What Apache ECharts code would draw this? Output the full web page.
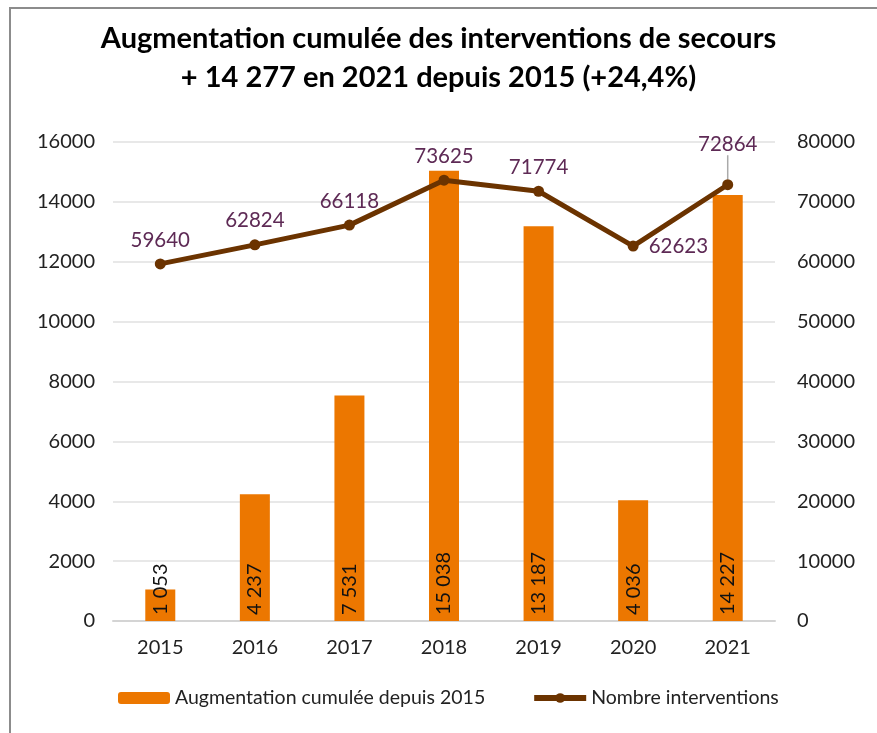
<!DOCTYPE html>
<html>
<head>
<meta charset="utf-8">
<script src="https://cdn.jsdelivr.net/npm/echarts@6/dist/echarts.min.js"></script>
<style>
  html, body { margin: 0; padding: 0; background: #fff; }
  #chart { width: 877px; height: 733px; }
</style>
</head>
<body>
<div id="chart"></div>
<script>
// données
const years = ['2015', '2016', '2017', '2018', '2019', '2020', '2021']
const augmentation = [1053, 4237, 7531, 15038, 13187, 4036, 14227]
const interventions = [59640, 62824, 66118, 73625, 71774, 62623, 72864]

const fmt = v => String(v).replace(/\B(?=(\d{3})+(?!\d))/g, ' ')
const font = 'Lato, "Open Sans", sans-serif'

const chart = echarts.init(document.getElementById('chart'))

chart.setOption({
  animation: false,
  textStyle: { fontFamily: font },
  title: {
    text: 'Augmentation cumulée des interventions de secours\n+ 14 277 en 2021 depuis 2015 (+24,4%)',
    left: 'center',
    top: 14,
    textStyle: { fontSize: 29, fontWeight: 'bold', color: '#000', lineHeight: 39, fontFamily: font }
  },
  graphic: [{
    type: 'rect',
    shape: { x: 10, y: 8, width: 900, height: 760 },
    style: { fill: 'none', stroke: '#8c8c8c', lineWidth: 2 },
    silent: true
  }],
  legend: {
    bottom: 20,
    left: 113,
    itemWidth: 52,
    itemHeight: 12,
    itemGap: 46,
    textStyle: { fontSize: 19.5, color: '#222' },
    data: [
      'Augmentation cumulée depuis 2015',
      { name: 'Nombre interventions', lineStyle: { width: 6 } }
    ]
  },
  grid: { left: 113, right: 102, top: 142, bottom: 112 },
  xAxis: {
    type: 'category',
    data: years,
    axisTick: { show: false },
    axisLine: { lineStyle: { color: '#d4d4d4', width: 2 } },
    axisLabel: { fontSize: 20, color: '#222', margin: 17 }
  },
  yAxis: [
    {
      type: 'value',
      min: 0, max: 16000, interval: 2000,
      axisLabel: { fontSize: 20, color: '#222', margin: 18, formatter: v => String(v) },
      splitLine: { lineStyle: { color: '#e8e8e8', width: 2 } }
    },
    {
      type: 'value',
      min: 0, max: 80000, interval: 10000,
      axisLabel: { fontSize: 20, color: '#222', margin: 22, formatter: v => String(v) },
      splitLine: { show: false }
    }
  ],
  series: [
    {
      name: 'Augmentation cumulée depuis 2015',
      type: 'bar',
      data: augmentation,
      barWidth: 30,
      itemStyle: { color: '#ec7700' },
      label: {
        show: true,
        position: 'insideBottom',
        rotate: 90,
        align: 'left',
        verticalAlign: 'middle',
        distance: 6,
        fontSize: 20,
        color: '#111',
        formatter: p => fmt(p.value)
      }
    },
    {
      name: 'Nombre interventions',
      type: 'line',
      yAxisIndex: 1,
      data: interventions.map((v, i) => {
        if (i === 5) return { value: v, label: { position: 'right', distance: 10, offset: [0, 4] } }
        if (i === 6) return { value: v, labelLine: { show: true, lineStyle: { color: '#aaa', width: 1.5 } } }
        return v
      }),
      symbol: 'circle',
      symbolSize: 11,
      lineStyle: { color: '#6b3300', width: 5 },
      itemStyle: { color: '#6b3300' },
      label: {
        show: true,
        position: 'top',
        distance: 8,
        fontSize: 20.5,
        color: '#5e2a55'
      },
      labelLayout: p => p.dataIndex === 6 ? { dy: -16 } : {},
      labelLine: { show: false }
    }
  ]
})
</script>
</body>
</html>
